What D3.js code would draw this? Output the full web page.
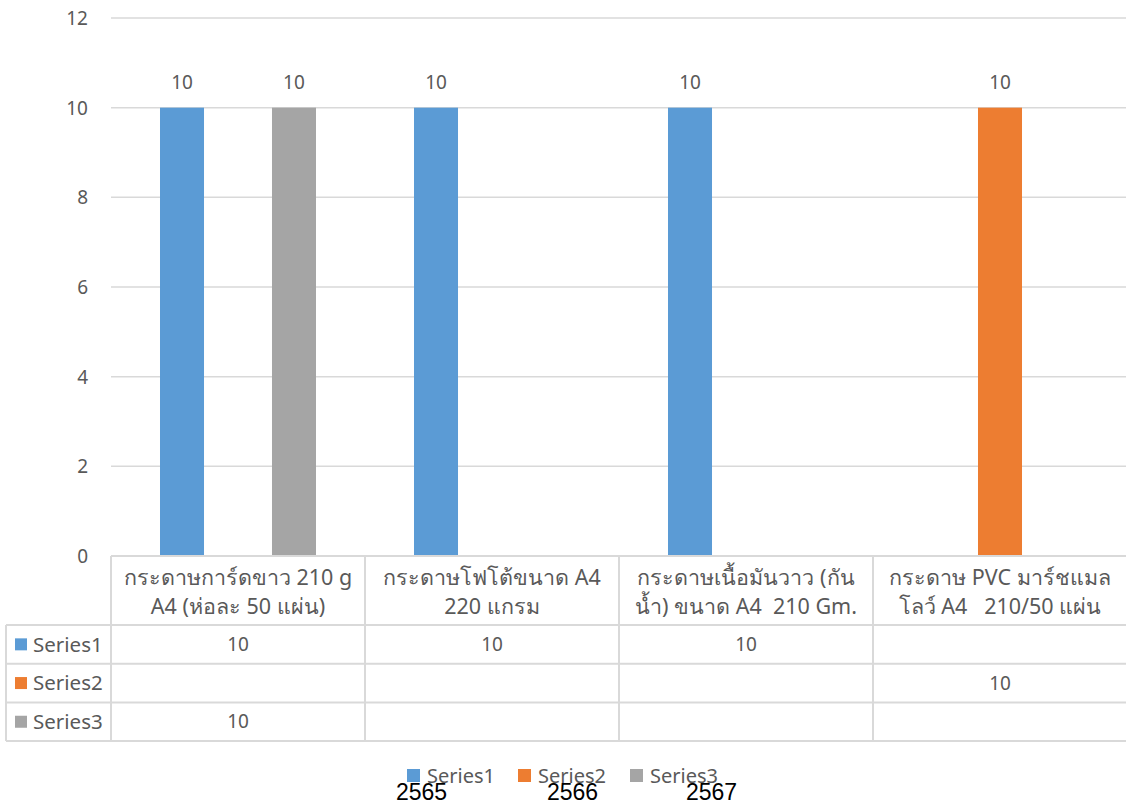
<!DOCTYPE html>
<html>
<head>
<meta charset="utf-8">
<script src="https://cdn.jsdelivr.net/npm/d3@7"></script>
<style>
  html, body { margin: 0; padding: 0; background: #fff; }
  svg { display: block; }
  text { white-space: pre; }
</style>
</head>
<body>
<svg id="chart" width="1126" height="807"></svg>
<script>
// Category labels (two lines each, as shown in the data table header)
const categoryLines = [
  ["กระดาษการ์ดขาว 210 g", "A4 (ห่อละ 50 แผ่น)"],
  ["กระดาษโฟโต้ขนาด A4", "220 แกรม"],
  ["กระดาษเนื้อมันวาว (กัน", "น้ำ) ขนาด A4  210 Gm."],
  ["กระดาษ PVC มาร์ชแมล", "โลว์ A4   210/50 แผ่น"]
];
const seriesNames = ["Series1", "Series2", "Series3"];
const series1 = [10, 10, 10, null];
const series2 = [null, null, null, 10];
const series3 = [10, null, null, null];
const seriesColors = ["#5b9bd5", "#ed7d31", "#a5a5a5"];
const yTicks = [0, 2, 4, 6, 8, 10, 12];
const yearLabels = ["2565", "2566", "2567"];

const seriesValues = [series1, series2, series3];
const catIdx = d3.range(categoryLines.length);

const svg = d3.select("#chart");
const font = "'Noto Sans', 'Open Sans', sans-serif";
const textGray = "#595959";
const lineGray = "#d9d9d9";

const plot = { left: 111, right: 1127, top: 18, bottom: 556 };

const x0 = d3.scaleBand().domain(catIdx).range([plot.left, plot.right]);
const x1 = d3.scaleBand().domain(seriesNames).range([0, x0.bandwidth()])
  .paddingInner(0.214).paddingOuter(0.875);
const y = d3.scaleLinear().domain([0, 12]).range([plot.bottom, plot.top]);

// Gridlines
svg.append("g").selectAll("line").data(yTicks.filter(t => t > 0)).join("line")
  .attr("x1", plot.left).attr("x2", plot.right)
  .attr("y1", d => y(d)).attr("y2", d => y(d))
  .attr("stroke", lineGray).attr("stroke-width", 1.5);

// Y axis labels
const yAxis = d3.axisLeft(y).tickValues(yTicks).tickSize(0).tickPadding(0);
const yg = svg.append("g").attr("transform", `translate(88,0)`).call(yAxis);
yg.select(".domain").remove();
yg.selectAll("text").attr("font-family", font).attr("font-size", 19)
  .attr("fill", textGray).attr("dy", "0.35em");

// Bars and value labels
seriesNames.forEach((name, si) => {
  const vals = catIdx.map(i => ({ i, v: seriesValues[si][i] })).filter(d => d.v != null);
  const g = svg.append("g");
  g.selectAll("rect").data(vals).join("rect")
    .attr("x", d => x0(d.i) + x1(name))
    .attr("width", x1.bandwidth())
    .attr("y", d => y(d.v))
    .attr("height", d => y(0) - y(d.v))
    .attr("fill", seriesColors[si]);
  g.selectAll("text").data(vals).join("text")
    .attr("x", d => x0(d.i) + x1(name) + x1.bandwidth() / 2)
    .attr("y", d => y(d.v) - 19)
    .attr("text-anchor", "middle")
    .attr("font-family", font).attr("font-size", 19).attr("fill", textGray)
    .text(d => d.v);
});

// Data table
const tableLeft = 6;
const headerTop = plot.bottom;
const headerBottom = 625;
const rowH = 38.7;
const rowTops = seriesNames.map((_, i) => headerBottom + i * rowH);
const tableBottom = headerBottom + seriesNames.length * rowH;

const tg = svg.append("g").attr("stroke", lineGray).attr("stroke-width", 2);
// Header top line
tg.append("line").attr("x1", plot.left).attr("x2", plot.right).attr("y1", headerTop).attr("y2", headerTop);
// Row lines
[headerBottom, ...rowTops.slice(1), tableBottom].forEach(yy => {
  tg.append("line").attr("x1", tableLeft).attr("x2", plot.right).attr("y1", yy).attr("y2", yy);
});
// Vertical lines
tg.append("line").attr("x1", tableLeft).attr("x2", tableLeft).attr("y1", headerBottom).attr("y2", tableBottom);
catIdx.concat([catIdx.length]).forEach(i => {
  const xx = i < catIdx.length ? x0(i) : plot.right;
  tg.append("line").attr("x1", xx).attr("x2", xx).attr("y1", headerTop).attr("y2", tableBottom);
});

// Category header text
const hg = svg.append("g");
catIdx.forEach(i => {
  const cx = x0(i) + x0.bandwidth() / 2;
  const t = hg.append("text")
    .attr("x", cx)
    .attr("text-anchor", "middle")
    .attr("font-family", font).attr("font-size", 21.5).attr("fill", textGray);
  categoryLines[i].forEach((ln, k) => {
    t.append("tspan").attr("x", cx).attr("y", 585 + k * 29).text(ln);
  });
});

// Series rows: legend key + values
seriesNames.forEach((name, si) => {
  const top = rowTops[si];
  const mid = top + rowH / 2;
  svg.append("rect").attr("x", 15).attr("y", mid - 6).attr("width", 12).attr("height", 12)
    .attr("fill", seriesColors[si]);
  svg.append("text").attr("x", 33).attr("y", mid).attr("dy", "0.35em")
    .attr("font-family", font).attr("font-size", 20.5).attr("fill", textGray).text(name);
  catIdx.forEach(i => {
    const v = seriesValues[si][i];
    if (v == null) return;
    svg.append("text").attr("x", x0(i) + x0.bandwidth() / 2).attr("y", mid).attr("dy", "0.35em")
      .attr("text-anchor", "middle")
      .attr("font-family", font).attr("font-size", 19).attr("fill", textGray).text(v);
  });
});

// Bottom legend
const legendX = [407, 518, 630];
seriesNames.forEach((name, si) => {
  svg.append("rect").attr("x", legendX[si]).attr("y", 769).attr("width", 13).attr("height", 13)
    .attr("fill", seriesColors[si]);
  svg.append("text").attr("x", legendX[si] + 20).attr("y", 783)
    .attr("font-family", font).attr("font-size", 20).attr("fill", textGray).text(name);
});

// Year labels over the legend
const yearX = [396, 547, 686];
yearLabels.forEach((yr, i) => {
  svg.append("text").attr("x", yearX[i]).attr("y", 800)
    .attr("font-family", "'Liberation Sans', Arial, sans-serif").attr("font-size", 23)
    .attr("fill", "#000").text(yr);
});
</script>
</body>
</html>
